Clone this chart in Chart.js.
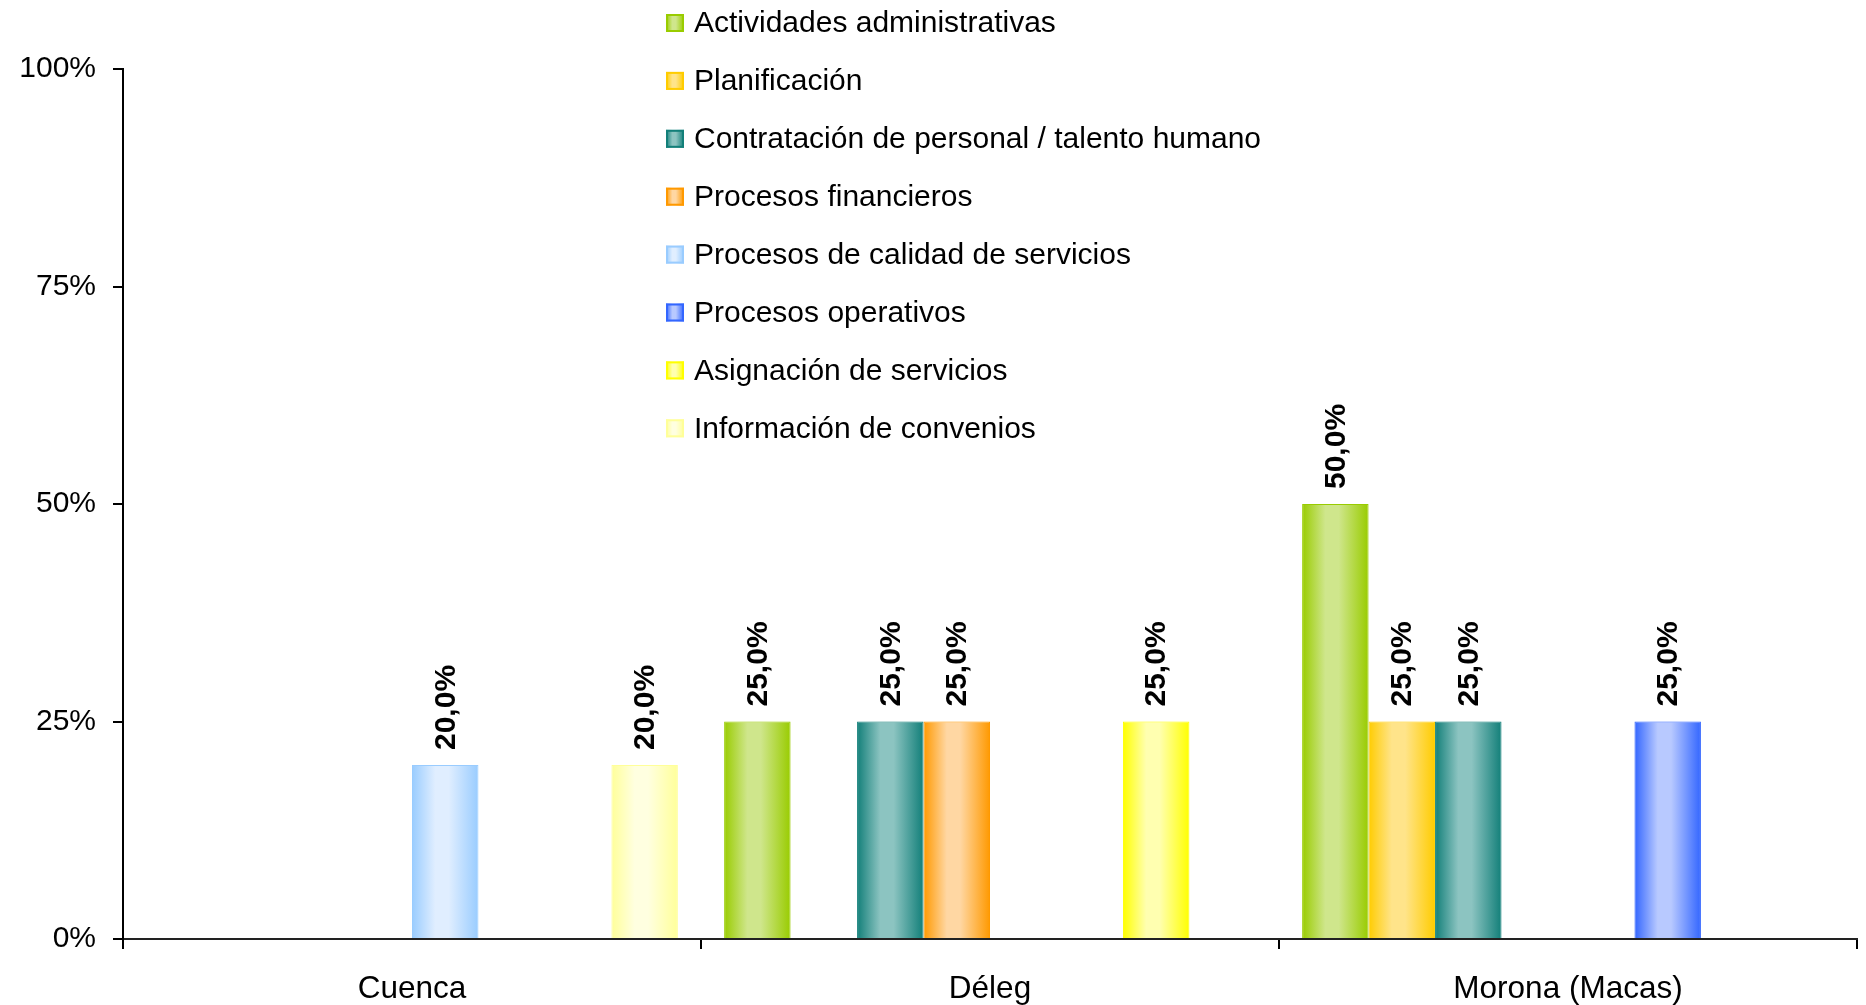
<!DOCTYPE html>
<html>
<head>
<meta charset="utf-8">
<script src="https://cdn.jsdelivr.net/npm/chart.js@4/dist/chart.umd.min.js"></script>
<style>
  body { margin: 0; background: #fff; }
  #wrap { width: 1866px; height: 1005px; position: relative; }
</style>
</head>
<body>
<div id="wrap"><canvas id="chart"></canvas></div>
<script>
// categorias (cantones)
const categories = ["Cuenca", "Déleg", "Morona (Macas)"];

// series (porcentaje por canton)
const actividades  = [null, 25, 50];
const planificacion = [null, null, 25];
const contratacion = [null, 25, 25];
const financieros  = [null, 25, null];
const calidad      = [20, null, null];
const operativos   = [null, null, 25];
const asignacion   = [null, 25, null];
const informacion  = [20, null, null];

const seriesNames = [
    "Actividades administrativas",
    "Planificación",
    "Contratación de personal / talento humano",
    "Procesos financieros",
    "Procesos de calidad de servicios",
    "Procesos operativos",
    "Asignación de servicios",
    "Información de convenios",
];
const seriesData = [actividades, planificacion, contratacion, financieros, calidad, operativos, asignacion, informacion];

// colores: borde oscuro y centro claro (efecto cilindro)
const edgeColors   = ["#99cc00", "#ffcc00", "#127f79", "#ff9900", "#99ccff", "#3366ff", "#ffff00", "#ffff99"];
const centerColors = ["#cfe68c", "#ffe48a", "#8cc4c1", "#ffd7a3", "#e0eeff", "#b8c9ff", "#ffffb0", "#ffffe0"];

const yTicks = [0, 25, 50, 75, 100];

const CAT_PCT = 0.92;
const FONT = "'Liberation Sans', Arial, Helvetica, sans-serif";

function makeGradient(ctx, left, w, k) {
    const g = ctx.createLinearGradient(left, 0, left + w, 0);
    g.addColorStop(0, edgeColors[k]);
    g.addColorStop(0.35, centerColors[k]);
    g.addColorStop(0.55, centerColors[k]);
    g.addColorStop(1, edgeColors[k]);
    return g;
}

// gradiente por barra, calculado desde la escala x
function barGradient(c, k) {
    const chart = c.chart;
    const xs = chart.scales.x;
    if (!xs || c.type !== "data") return edgeColors[k];
    const center = xs.getPixelForValue(c.dataIndex);
    const catW = xs.width / categories.length;
    if (!isFinite(center) || !isFinite(catW) || catW <= 0) return edgeColors[k];
    const bw = catW * CAT_PCT / seriesNames.length;
    const left = center - catW * CAT_PCT / 2 + k * bw;
    return makeGradient(chart.ctx, left, bw, k);
}

// leyenda vertical dibujada a mano
const legendPlugin = {
    id: "sideLegend",
    afterDraw(chart) {
        const ctx = chart.ctx;
        ctx.save();
        ctx.font = "30px " + FONT;
        ctx.textBaseline = "middle";
        chart.data.datasets.forEach((ds, k) => {
            const y = 23 + k * 57.9;
            ctx.fillStyle = makeGradient(ctx, 666, 18, k);
            ctx.fillRect(666, y - 9, 18, 18);
            ctx.strokeStyle = edgeColors[k];
            ctx.lineWidth = 2;
            ctx.strokeRect(667, y - 8, 16, 16);
            ctx.fillStyle = "#000";
            ctx.fillText(ds.label, 694, y + 1);
        });
        ctx.restore();
    }
};

// etiquetas de valor verticales
const valueLabels = {
    id: "valueLabels",
    afterDatasetsDraw(chart) {
        const ctx = chart.ctx;
        ctx.save();
        ctx.font = "bold 30px " + FONT;
        ctx.fillStyle = "#000";
        ctx.textAlign = "left";
        ctx.textBaseline = "middle";
        chart.data.datasets.forEach((ds, k) => {
            const meta = chart.getDatasetMeta(k);
            meta.data.forEach((el, i) => {
                const v = ds.data[i];
                if (v === null || v === undefined) return;
                ctx.save();
                ctx.translate(el.x, el.y - 15);
                ctx.rotate(-Math.PI / 2);
                ctx.fillText(v.toFixed(1).replace(".", ",") + "%", 0, 1);
                ctx.restore();
            });
        });
        ctx.restore();
    }
};

const chart = new Chart(document.getElementById("chart"), {
    type: "bar",
    data: {
        labels: categories,
        datasets: seriesNames.map((name, k) => ({
            label: name,
            data: seriesData[k],
            backgroundColor: (c) => barGradient(c, k),
            borderColor: edgeColors[k],
            borderWidth: 1,
            categoryPercentage: CAT_PCT,
            barPercentage: 1.0,
        })),
    },
    options: {
        responsive: true,
        maintainAspectRatio: false,
        animation: false,
        layout: { padding: { top: 69, left: 0, right: 9, bottom: 0 } },
        plugins: {
            legend: { display: false },
            tooltip: { enabled: false },
        },
        scales: {
            x: {
                afterFit(scale) { scale.height = 66; },
                grid: {
                    display: true,
                    drawOnChartArea: false,
                    drawTicks: true,
                    tickLength: 10,
                    color: "#000",
                    lineWidth: 2,
                },
                border: { display: true, color: "#222", width: 2 },
                ticks: {
                    color: "#000",
                    padding: 21,
                    font: { family: FONT, size: 31.5 },
                },
            },
            y: {
                min: 0,
                max: 100,
                afterFit(scale) { scale.width = 123; },
                afterBuildTicks(axis) {
                    axis.ticks = yTicks.map(v => ({ value: v }));
                },
                grid: {
                    display: true,
                    drawOnChartArea: false,
                    drawTicks: true,
                    tickLength: 10,
                    color: "#000",
                    lineWidth: 2,
                },
                border: { display: true, color: "#000", width: 2 },
                ticks: {
                    color: "#000",
                    padding: 17,
                    font: { family: FONT, size: 30 },
                    callback: (v) => v + "%",
                },
            },
        },
    },
    plugins: [legendPlugin, valueLabels],
});
</script>
</body>
</html>
